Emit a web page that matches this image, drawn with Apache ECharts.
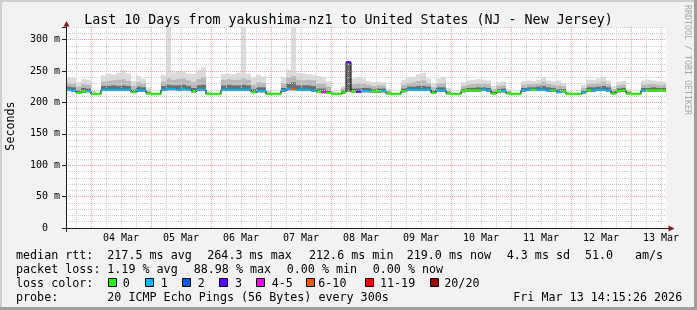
<!DOCTYPE html>
<html><head><meta charset="utf-8">
<script src="https://cdn.jsdelivr.net/npm/echarts@6/dist/echarts.min.js"></script>
<style>html,body{margin:0;padding:0;background:#f2f2f2}#c{width:697px;height:310px}</style>
</head><body><div id="c"></div>
<script>
// ---- data (2-hour steps starting Mar 3 14:00) ----
const startYear = 2026, startMonth = 2, startDay = 3, startHour = 14;
const stepHours = 2;
const medianRtt = [
220,219,215,217,218,213,213,220,220,220,
220,220,220,216,219,219,214,213,213,220,
221,221,220,221,220,217,220,220,213,213,
213,220,220,220,220,220,220,216,218,218,
213,213,213,219,221,221,220,220,220,219,
217,216,215,213,213,216,264,217,217,218,
218,217,217,218,214,213,213,218,220,220,
220,220,220,215,219,219,214,213,213,218,
219,219,219,220,219,214,217,218,214,213,
213,219,220,220,220,220,219,219,216,217,
213,213,213,216,219,219,220,220,219,214,
218,219,214,213,213,219,219,219,219,219];
const lossClass = [
1,1,0,0,1,0,0,1,1,1,
1,1,1,0,1,1,0,0,0,1,
1,1,1,1,1,0,1,1,0,0,
0,1,1,1,1,1,1,0,1,1,
0,0,0,1,1,5,1,1,1,1,
0,4,0,0,0,0,3,0,3,1,
1,0,0,1,0,0,0,0,1,1,
1,1,1,0,1,1,0,0,0,0,
0,0,0,1,1,0,0,1,0,0,
0,1,1,0,1,1,1,0,1,0,
0,0,0,1,0,1,1,1,1,0,
0,0,0,0,0,1,0,0,0,0];
const smokeLo = [
218,217,214,215,216,212,212,218,218,218,
218,218,218,215,217,217,213,212,212,218,
219,219,218,219,218,216,218,218,212,212,
212,218,218,218,218,218,218,215,216,216,
212,212,212,217,219,219,218,218,218,217,
216,215,214,212,212,214,217,216,216,216,
216,215,215,216,213,212,212,216,218,218,
218,218,218,214,217,217,213,212,212,216,
217,217,217,218,217,213,215,216,213,212,
212,217,218,218,218,218,217,217,215,216,
212,212,212,214,217,217,218,218,217,213,
216,217,213,212,212,217,217,217,217,217];
const smokeCore = [
225,224,219,223,222,214,214,226,226,227,
226,227,226,220,225,224,216,214,214,226,
228,227,227,228,226,223,227,228,214,214,
214,227,228,227,227,228,227,221,224,224,
215,214,214,223,230,232,227,227,227,226,
222,222,219,214,214,219,264,222,222,223,
223,221,222,222,216,214,214,222,225,225,
226,226,225,219,224,224,216,214,214,221,
223,223,224,224,223,217,221,222,216,214,
214,223,224,224,225,226,224,223,221,221,
214,214,214,219,224,224,225,226,224,217,
222,223,216,214,214,223,223,224,223,223];
const smokeMid = [
231,230,225,229,228,216,215,233,234,235,
236,237,234,226,232,230,219,215,215,233,
238,236,237,238,235,232,237,240,216,215,
215,236,237,236,236,238,236,228,232,231,
217,215,215,230,240,242,236,235,236,235,
230,230,225,216,215,222,264,229,230,230,
228,226,227,227,219,215,215,228,231,232,
234,235,231,224,230,231,219,215,215,226,
228,229,230,230,229,221,226,227,218,215,
215,228,229,229,230,233,229,228,227,226,
216,215,215,223,229,230,231,233,229,221,
227,228,218,215,215,228,229,229,228,228];
const smokeMax = [
240,239,232,237,236,218,217,243,246,244,
247,251,246,234,242,238,224,217,217,244,
320,248,250,249,246,245,252,256,218,217,
217,245,246,245,247,320,246,240,244,241,
220,217,217,240,252,320,247,246,245,244,
242,240,234,219,217,226,264,238,240,238,
234,232,233,232,222,217,217,236,240,240,
245,247,238,230,238,240,223,217,217,232,
235,236,237,236,235,226,232,233,221,217,
217,234,235,234,236,240,235,234,235,231,
218,217,217,228,236,236,238,241,235,226,
233,234,221,217,217,235,236,235,234,233];
const dayLabels = ['04 Mar','05 Mar','06 Mar','07 Mar','08 Mar','09 Mar','10 Mar','11 Mar','12 Mar','13 Mar'];
const yTickValues = [0,50,100,150,200,250,300];
const yTickTexts = ['0  ','50 m','100 m','150 m','200 m','250 m','300 m'];
const lossLabels = ['0','1','2','3','4-5','6-10','11-19','20/20'];
const lossColors = ['#26ff00','#00b8ff','#0059ff','#5e00ff','#ff00ff','#ff5500','#ff0000','#a00000'];

// ---- categories ----
const categories = [], catHour = [], catDay = [];
for (let i = 0; i < medianRtt.length; i++) {
  const d = new Date(startYear, startMonth, startDay, startHour + i * stepHours);
  catHour.push(d.getHours()); catDay.push(d.getDate());
  categories.push((d.getMonth()+1) + '-' + d.getDate() + ' ' + d.getHours() + ':00');
}

const MONO = "'DejaVu Sans Mono', monospace";
const chart = echarts.init(document.getElementById('c'), null, {renderer: 'canvas'});

const g = [];
// frame
g.push({type:'rect', shape:{x:0,y:0,width:697,height:2}, style:{fill:'#cfcfcf'}, silent:true});
g.push({type:'rect', shape:{x:0,y:0,width:2,height:310}, style:{fill:'#cfcfcf'}, silent:true});
g.push({type:'rect', shape:{x:0,y:307,width:697,height:3}, style:{fill:'#9e9e9e'}, silent:true});
g.push({type:'rect', shape:{x:694,y:0,width:3,height:310}, style:{fill:'#9e9e9e'}, silent:true});
// axes lines + arrows
g.push({type:'line', shape:{x1:66.5,y1:232,x2:66.5,y2:25}, style:{stroke:'#1f1f1f',lineWidth:1}, z:10, silent:true});
g.push({type:'line', shape:{x1:62,y1:228.5,x2:669,y2:228.5}, style:{stroke:'#1f1f1f',lineWidth:1}, z:10, silent:true});
g.push({type:'polygon', shape:{points:[[63.5,26.5],[69.5,26.5],[66.5,21]]}, style:{fill:'#801f1f'}, z:10, silent:true});
g.push({type:'polygon', shape:{points:[[668.5,225.5],[668.5,231.5],[674.5,228.5]]}, style:{fill:'#801f1f'}, z:10, silent:true});
// title
g.push({type:'text', x:348.5, y:20.3, style:{text:'Last 10 Days from yakushima-nz1 to United States (NJ - New Jersey)', fontFamily:MONO, fontSize:13.3, fill:'#000', align:'center', verticalAlign:'middle'}, silent:true});
// y name
g.push({type:'text', x:10.5, y:126, rotation:Math.PI/2, style:{text:'Seconds', fontFamily:MONO, fontSize:11.7, fill:'#000', align:'center', verticalAlign:'middle'}, silent:true});
// watermark
g.push({type:'text', x:687.5, y:60, rotation:-Math.PI/2, style:{text:'RRDTOOL / TOBI OETIKER', fontFamily:MONO, fontSize:8.3, fill:'#a8a8a8', align:'center', verticalAlign:'middle'}, silent:true});
// legend texts
function txt(s, x, y){ g.push({type:'text', x:x, y:y, style:{text:s, fontFamily:MONO, fontSize:11.7, fill:'#000', align:'left', verticalAlign:'middle'}, silent:true}); }
const L1 = 255.7, L2 = 269.7, L3 = 283.7, L4 = 297.7;
txt('median rtt:',16,L1); txt('217.5 ms avg',107.3,L1); txt('264.3 ms max',207.3,L1); txt('212.6 ms min',309,L1);
txt('219.0 ms now',406.7,L1); txt('4.3 ms sd',506.7,L1); txt('51.0',585,L1); txt('am/s',635,L1);
txt('packet loss:',16,L2); txt('1.19 % avg',107.3,L2); txt('88.98 % max',193.7,L2); txt('0.00 % min',286.7,L2); txt('0.00 % now',372.7,L2);
txt('loss color:',16,L3);
const boxX = [108.5,145.5,182.5,219.5,256.5,306.5,365.5,430.5];
const labX = [122.7,160.7,197.7,235,271.7,318.3,380,444.3];
for (let k = 0; k < lossLabels.length; k++) {
  g.push({type:'rect', shape:{x:boxX[k], y:278.5, width:8, height:8}, style:{fill:lossColors[k], stroke:'#000', lineWidth:1}, silent:true});
  txt(lossLabels[k], labX[k], L3);
}
txt('probe:',16,L4); txt('20 ICMP Echo Pings (56 Bytes) every 300s',107.3,L4); txt('Fri Mar 13 14:15:26 2026',513.3,L4);

const smokeData = medianRtt.map((m,i)=>[i, smokeLo[i], smokeCore[i], smokeMid[i], smokeMax[i]]);
const medData = medianRtt.map((m,i)=>[i, m, lossClass[i]]);
const shades = [[4,'#dcdcdc'],[3,'#b8b8b8'],[2,'#6e6e6e']];

const option = {
  backgroundColor: '#f2f2f2',
  animation: false,
  grid: {left:66, right:31, top:27, bottom:82, show:true, backgroundColor:'#ffffff', borderWidth:0},
  xAxis: [
    {type:'category', data:categories, boundaryGap:true, position:'bottom', z:2,
     axisLine:{show:false}, axisTick:{show:false},
     axisLabel:{interval:(idx)=>catHour[idx]===12, formatter:(v,idx)=>dayLabels[catDay[idx]-4],
       fontFamily:MONO, fontSize:10, color:'#000', margin:5, padding:[0,5,0,0]},
     splitLine:{show:true, interval:(idx)=>catHour[idx]%6===0, showMaxLine:false, lineStyle:{color:'#cfcfcf', type:[1,1], width:1}}},
    {type:'category', data:categories, boundaryGap:true, position:'bottom', z:2,
     axisLine:{show:false}, axisTick:{show:false}, axisLabel:{show:false},
     splitLine:{show:true, interval:(idx)=>catHour[idx]===0, showMaxLine:false, lineStyle:{color:'#f0a0a0', type:[1,1], width:1}}}
  ],
  yAxis: [
    {type:'value', min:0, max:320, interval:10, position:'left', z:2,
     axisLine:{show:false}, axisTick:{show:false},
     axisLabel:{formatter:(v)=>{const k=yTickValues.indexOf(v); return k<0?'':yTickTexts[k];}, fontFamily:MONO, fontSize:10, color:'#000', margin:6},
     splitLine:{show:true, lineStyle:{color:'#cfcfcf', type:[1,1], width:1}}},
    {type:'value', min:0, max:320, interval:50, position:'left', z:2,
     axisLine:{show:false}, axisLabel:{show:false},
     axisTick:{show:true, length:4, lineStyle:{color:'#1f1f1f'}},
     splitLine:{show:true, showMinLine:false, showMaxLine:false, lineStyle:{color:'#f0a0a0', type:[1,1], width:1}}}
  ],
  series: [
    {type:'custom', name:'smoke', xAxisIndex:0, yAxisIndex:0, z:1, silent:true, clip:true,
     encode:{x:0, y:[1,4]}, data:smokeData,
     renderItem:function(params, api){
       const i = api.value(0);
       const bw = api.size([1,0])[0];
       const x0 = api.coord([i,0])[0] - bw/2;
       const yLo = api.coord([i, api.value(1)])[1];
       const children = shades.map(function(s){
         const yt = api.coord([i, api.value(s[0])])[1];
         return {type:'rect', shape:{x:x0, y:yt, width:bw, height:Math.max(0,yLo-yt)}, style:{fill:s[1]}};
       });
       return {type:'group', children:children};
     }},
    {type:'line', name:'median-step', xAxisIndex:0, yAxisIndex:0, z:3, silent:true,
     data:medianRtt, step:'middle', symbol:'none', lineStyle:{color:'#000', width:1}},
    {type:'custom', name:'median', xAxisIndex:0, yAxisIndex:0, z:4, silent:true, clip:true,
     encode:{x:0, y:1}, data:medData,
     renderItem:function(params, api){
       const i = api.value(0);
       const bw = api.size([1,0])[0];
       const p = api.coord([i, api.value(1)]);
       return {type:'rect', shape:{x:p[0]-bw/2, y:p[1]-1, width:bw, height:2}, style:{fill:lossColors[api.value(2)]}};
     }}
  ],
  graphic: g
};
chart.setOption(option);
</script></body></html>
